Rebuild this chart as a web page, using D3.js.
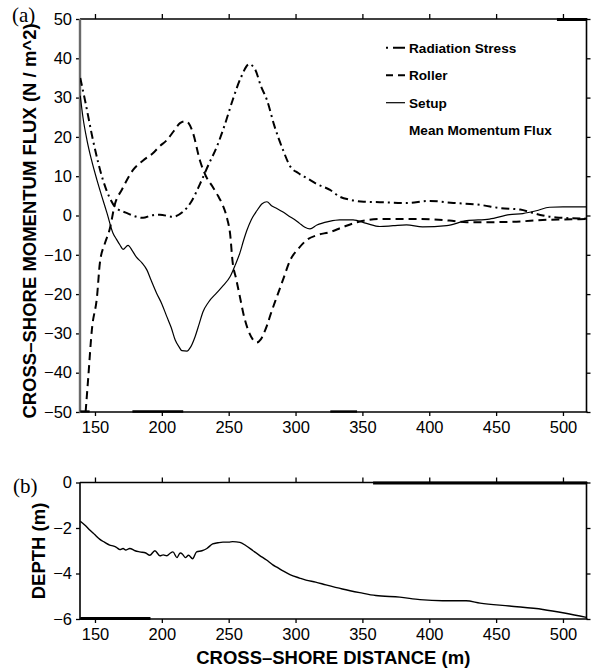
<!DOCTYPE html>
<html><head><meta charset="utf-8">
<script src="https://cdn.jsdelivr.net/npm/d3@7"></script>
<style>
html,body{margin:0;padding:0;background:#fff;}
svg{display:block;}
text{font-family:"Liberation Sans",Arial,Helvetica,sans-serif;fill:#000;}
text.serif{font-family:"Liberation Serif","Times New Roman",serif;}
</style></head>
<body><svg id="c" width="593" height="672"></svg>
<script>
// ---------- data ----------
const xTicks = [150,200,250,300,350,400,450,500];
const fluxTicks = [-50,-40,-30,-20,-10,0,10,20,30,40,50];
const depthTicks = [0,-2,-4,-6];
const legendLabels = ["Radiation Stress","Roller","Setup","Mean Momentum Flux"];

const radX = [139,142.5,148.5,156,161,165,174,186,192,198.6,208,216,222,228.5,235,241,247,253,259,265.4,270,274,278.6,284,290.6,296,302,308.5,316,325.8,333,340.7,351,363,383,400,418,438,453,468,477,485,495,518];
const radY = [35,29.4,19.2,9,4.5,2.2,0.6,-0.6,0,0.2,-0.3,1,3.5,8,13,17.4,23,29.4,35,38.5,37,33,29.4,23,16.7,12.5,10.8,9.5,8,6.5,4.8,4,3.5,3.4,3.2,3.7,3.2,2.7,1.9,1.5,0.7,0,-0.5,-0.8];

const rolX = [143,144.8,147.7,151.5,153.7,157.5,161,165,170,178.5,186,193.5,198,203.8,209,213.6,217.5,220,223.3,228.5,233,238,242,245.7,249,251,253,255.5,258.4,261,264.4,268,271,274,278.6,282,286,291,295.8,302,308.5,316,325.8,335,346,363,393,415,428,445,462.6,488,500,518];
const rolY = [-50,-42,-29,-20.7,-12,-7,-3.5,3,6.5,11.6,14,15.9,17.5,19.2,21.5,23.5,24,23.5,21,14,10,7.3,5,2.5,-1,-4.5,-12,-16,-20.7,-25,-29,-31.5,-32.3,-31.5,-28,-24.5,-20.7,-16,-11.5,-8.5,-6.2,-5,-4.2,-3,-1.7,-0.9,-0.9,-1.3,-1.7,-1.7,-1.6,-1.1,-1,-0.9];

const setX = [139,141,144,147.5,151.5,155,159,163.5,166,168.7,171,174.7,178,181,185,188.9,192,196,200,203.8,207,210,213,215,218.8,221.5,224.8,228,230.8,235,241,246,251,255,258.4,261,263.7,267,271,275,278.6,282,286,291,295.8,300,303,307,310.8,316,325,333,343,353,363,373,383,395,413,428,445,460,470,480,490,500,518];
const setY = [30.5,25,19.2,14,9,5,0.6,-4.5,-6,-7.5,-8.6,-7.6,-9,-10.6,-12,-13.9,-16.5,-19.7,-22.5,-25.8,-28.5,-31.7,-33.5,-34.4,-34.5,-33.5,-30.9,-27.5,-24.5,-22,-19.7,-17.8,-15.6,-12.5,-9.5,-6.5,-3.7,-1,1.2,3,3.5,2.5,1.8,0.8,-0.3,-1.2,-2,-3,-3.4,-2.4,-1.5,-1.1,-1.1,-2,-2.8,-2.6,-2.4,-2.9,-2.6,-1.3,-0.9,0.2,0.5,1.2,2.1,2.2,2.2];

const depX = [139,143,146.3,150,153.7,157,161,164,166,168.7,171,173,176,180,183.6,188,191,194.8,198.6,201,203.8,206,208.3,211.3,213.7,215.5,217.5,220,223,226,230,233.7,238,242,245.7,250,253,258.4,263,268.2,273,278.6,283,286,291,295.8,303,307.8,315,322.7,335,348,360,378,393,410,427.5,438,460,485,502,517.5];
const depY = [-1.7,-1.9,-2.1,-2.3,-2.5,-2.62,-2.75,-2.8,-2.85,-2.95,-2.9,-2.97,-2.9,-3.0,-3.05,-3.1,-3.2,-3.0,-3.22,-3.18,-3.22,-3.12,-3.05,-3.3,-3.1,-3.15,-3.3,-3.2,-3.35,-3.05,-3.0,-2.9,-2.7,-2.65,-2.62,-2.62,-2.6,-2.63,-2.78,-3.0,-3.2,-3.42,-3.62,-3.72,-3.9,-4.05,-4.2,-4.29,-4.38,-4.5,-4.68,-4.84,-4.97,-5.04,-5.15,-5.2,-5.2,-5.3,-5.43,-5.58,-5.75,-5.93];

// overlapping curve pieces lying on the frame (x ranges, in data units)
const fluxTopOverlap = [[495.5,518]];
const fluxBottomOverlap = [[139,146],[178,216],[326,346]];
const depthTopOverlap = [[358,518]];
const depthBottomOverlap = [[139,191.5]];

// ---------- layout ----------
const svg = d3.select("#c");
const L = 80, R = 586.5;
const x = d3.scaleLinear().domain([138.8,517.6]).range([L,R]);
const yA = d3.scaleLinear().domain([-50,50]).range([412,19]);
const yB = d3.scaleLinear().domain([-6,0]).range([619,482.5]);
const tickFont = 16.5;

function frame(y, yt, top, bottom, leftGray){
  const g = svg.append("g");
  const bx = g.append("g").attr("transform",`translate(0,${bottom})`)
    .call(d3.axisBottom(x).tickValues(xTicks).tickSize(4).tickPadding(5).tickFormat(d3.format("d")));
  bx.select(".domain").remove();
  bx.selectAll("line").attr("stroke","#000").attr("stroke-width",1.3);
  bx.selectAll("text").attr("font-size",tickFont).attr("fill","#000").attr("font-family",null);
  const tx = g.append("g").attr("transform",`translate(0,${top})`)
    .call(d3.axisTop(x).tickValues(xTicks).tickSize(5).tickFormat(""));
  tx.select(".domain").remove();
  tx.selectAll("line").attr("stroke","#000").attr("stroke-width",1.3);
  const ly = g.append("g").attr("transform",`translate(${L},0)`)
    .call(d3.axisLeft(y).tickValues(yt).tickSize(4).tickPadding(4).tickFormat(d=>d<0?"\u2212"+Math.abs(d):d));
  ly.select(".domain").remove();
  ly.selectAll("line").attr("stroke","#000").attr("stroke-width",1.3);
  ly.selectAll("text").attr("font-size",tickFont).attr("fill","#000").attr("font-family",null);
  const ry = g.append("g").attr("transform",`translate(${R},0)`)
    .call(d3.axisRight(y).tickValues(yt).tickSize(4).tickFormat(""));
  ry.select(".domain").remove();
  ry.selectAll("line").attr("stroke","#000").attr("stroke-width",1.3);
  g.append("line").attr("x1",L).attr("x2",R+1).attr("y1",top).attr("y2",top).attr("stroke","#000").attr("stroke-width",1.6);
  g.append("line").attr("x1",L).attr("x2",R+1).attr("y1",bottom).attr("y2",bottom).attr("stroke","#000").attr("stroke-width",1.6);
  g.append("line").attr("x1",R).attr("x2",R).attr("y1",top).attr("y2",bottom).attr("stroke","#000").attr("stroke-width",1.6);
  g.append("line").attr("x1",L).attr("x2",L).attr("y1",top).attr("y2",bottom+0.8)
    .attr("stroke",leftGray?"#6a6a6a":"#000").attr("stroke-width",leftGray?2.4:1.6);
  return g;
}

function overlaps(list, yy, w){
  svg.append("g").selectAll("line").data(list).join("line")
    .attr("x1",d=>x(d[0])).attr("x2",d=>x(d[1])).attr("y1",yy).attr("y2",yy)
    .attr("stroke","#000").attr("stroke-width",w);
}

// ---------- panel (a) ----------
frame(yA, fluxTicks, 19, 412, true);
overlaps(fluxTopOverlap, 19.5, 3);
overlaps(fluxBottomOverlap, 411.5, 2.3);

svg.append("clipPath").attr("id","clipA").append("rect").attr("x",L).attr("y",19).attr("width",R-L).attr("height",393);
const lineA = d3.line().x(d=>x(d[0])).y(d=>yA(d[1])).curve(d3.curveMonotoneX);
const gA = svg.append("g").attr("clip-path","url(#clipA)");
gA.append("path").datum(d3.zip(radX,radY)).attr("d",lineA).attr("fill","none")
  .attr("stroke","#000").attr("stroke-width",2).attr("stroke-dasharray","8,4,2,4");
gA.append("path").datum(d3.zip(rolX,rolY)).attr("d",lineA).attr("fill","none")
  .attr("stroke","#000").attr("stroke-width",2).attr("stroke-dasharray","8,5");
gA.append("path").datum(d3.zip(setX,setY)).attr("d",lineA).attr("fill","none")
  .attr("stroke","#000").attr("stroke-width",1.2);

// legend
const legDash = ["2,5,12,10","7,5",null,null];
const leg = svg.append("g");
legendLabels.forEach((lab,i)=>{
  const yy = 47.7 + i*27.5;
  if(i<3){
    leg.append("line").attr("x1",386).attr("x2",405).attr("y1",yy).attr("y2",yy)
      .attr("stroke","#000").attr("stroke-width",i<2?2:1.2)
      .attr("stroke-dasharray",legDash[i]);
  }
  leg.append("text").attr("x",409).attr("y",yy+5).attr("font-size",13.6).attr("font-weight","bold").text(lab);
});

// titles panel a
svg.append("text").attr("transform","translate(36,221) rotate(-90)").attr("text-anchor","middle")
  .attr("font-size",18.5).attr("font-weight","bold").text("CROSS\u2013SHORE MOMENTUM FLUX (N / m^2)");
svg.append("text").attr("class","serif").attr("x",12).attr("y",22).attr("font-size",21).text("(a)");

// ---------- panel (b) ----------
frame(yB, depthTicks, 482.5, 619, false);
overlaps(depthTopOverlap, 483, 3);
overlaps(depthBottomOverlap, 618.5, 3);
const lineB = d3.line().x(d=>x(d[0])).y(d=>yB(d[1])).curve(d3.curveMonotoneX);
svg.append("path").datum(d3.zip(depX,depY)).attr("d",lineB).attr("fill","none")
  .attr("stroke","#000").attr("stroke-width",1.4);

svg.append("text").attr("transform","translate(45,551) rotate(-90)").attr("text-anchor","middle")
  .attr("font-size",18.5).attr("font-weight","bold").text("DEPTH (m)");
svg.append("text").attr("class","serif").attr("x",13).attr("y",493).attr("font-size",21).text("(b)");
svg.append("text").attr("x",(L+R)/2).attr("y",664).attr("text-anchor","middle")
  .attr("font-size",18.5).attr("font-weight","bold").text("CROSS\u2013SHORE DISTANCE (m)");
</script></body></html>
